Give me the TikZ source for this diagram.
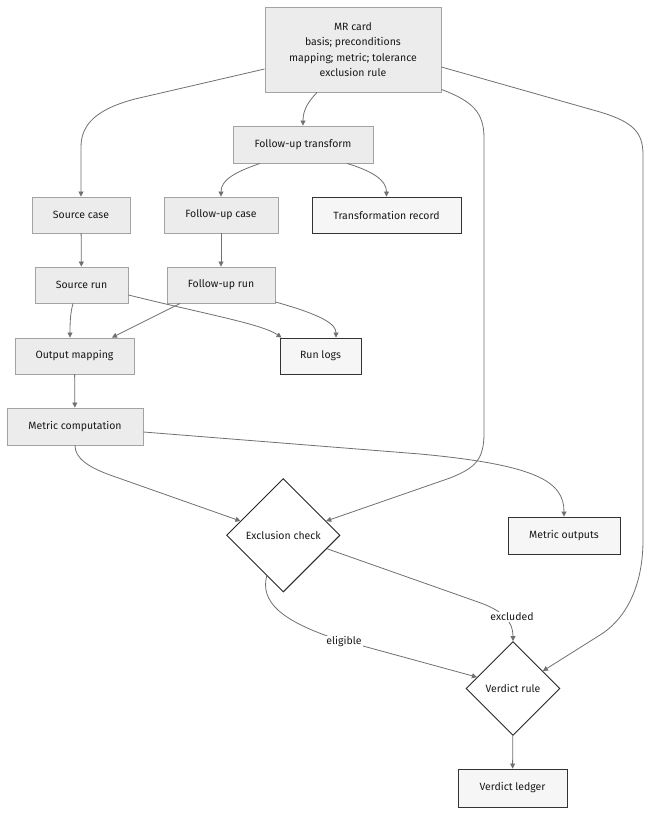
\documentclass[tikz,border=0pt]{standalone}
\usepackage{fontspec}
\setmainfont{Fira Sans}
\usetikzlibrary{shapes.geometric,arrows.meta,calc}
\definecolor{boxfill}{HTML}{ECECEC}
\definecolor{boxline}{HTML}{A3A3A3}
\definecolor{outfill}{HTML}{F6F6F6}
\definecolor{outline}{HTML}{333333}
\definecolor{edgecol}{HTML}{707070}
\begin{document}
\begin{tikzpicture}[x=1pt,y=-1pt,
  every node/.style={font=\fontsize{10.5}{15.5}\selectfont, text=black!90},
  procbox/.style={draw=boxline, fill=boxfill, line width=0.9pt, rectangle, inner sep=0pt, align=center},
  outbox/.style={draw=outline, fill=outfill, line width=0.9pt, rectangle, inner sep=0pt, align=center},
  decide/.style={draw=black!85, fill=white, line width=0.9pt, diamond, aspect=1, inner sep=0pt},
  flow/.style={draw=edgecol, line width=0.8pt, -{Triangle[length=5pt,width=5pt]}},
  elabel/.style={fill=white, inner sep=1pt}
]
\useasboundingbox (0,0) rectangle (651,813);
\fill[white] (0,0) rectangle (651,813);

% nodes
\node[procbox, minimum width=176pt, minimum height=85pt] (mr) at (353,49.5) {MR card\\basis; preconditions\\mapping; metric; tolerance\\exclusion rule};
\node[procbox, minimum width=140pt, minimum height=37pt] (fut) at (303,144.5) {Follow-up transform};
\node[procbox, minimum width=98pt, minimum height=36pt] (sc) at (81,215) {Source case};
\node[procbox, minimum width=114pt, minimum height=36pt] (fuc) at (221,215) {Follow-up case};
\node[outbox, minimum width=149pt, minimum height=36pt] (tr) at (386.5,215) {Transformation record};
\node[procbox, minimum width=93pt, minimum height=36pt] (sr) at (81.5,285) {Source run};
\node[procbox, minimum width=108pt, minimum height=36pt] (fur) at (221,285) {Follow-up run};
\node[procbox, minimum width=119pt, minimum height=36pt] (om) at (74.5,356) {Output mapping};
\node[outbox, minimum width=81pt, minimum height=36pt] (rl) at (320.5,356) {Run logs};
\node[procbox, minimum width=136pt, minimum height=37pt] (mc) at (75,426.5) {Metric computation};
\node[decide, minimum width=113.4pt, minimum height=113.4pt] (ex) at (283.3,535.3) {Exclusion check};
\node[outbox, minimum width=112pt, minimum height=37pt] (mo) at (564,535.5) {Metric outputs};
\node[decide, minimum width=94pt, minimum height=94pt] (vr) at (513,688.5) {Verdict rule};
\node[outbox, minimum width=109pt, minimum height=38pt] (vl) at (512.5,788) {Verdict ledger};

% edges
\draw[flow] ($(mr.west)+(0,19.5)$) -- (135,99) .. controls (97,109) and (81,124) .. (81,147) -- (sc.north);
\draw[flow] ($(mr.south)+(-36,0)$) .. controls (308,102) and (303,110) .. (fut.north);
\draw[flow] ($(mr.south east)+(0,-3)$) .. controls (472,101) and (484,112) .. (484,138) -- (484,433) .. controls (484,460) and (475,468) .. (450,478) -- ($(ex.east)!0.25!(ex.north)$);
\draw[flow] ($(mr.east)+(0,17.5)$) -- (600,112) .. controls (633,122) and (643,132) .. (643,155) -- (643,540) .. controls (643,590) and (623,621) .. (600,635) -- ($(vr.east)!0.37!(vr.north)$);
\draw[flow] ($(fut.south)+(-43,0)$) .. controls (235,172) and (221,180) .. (fuc.north);
\draw[flow] ($(fut.south)+(44,0)$) .. controls (372,171) and (386.5,180) .. (tr.north);
\draw[flow] (sc) -- (sr);
\draw[flow] (fuc) -- (fur);
\draw[flow] ($(sr.south)+(-8.5,0)$) .. controls (70,314) and (70,326) .. ($(om.north)+(-4.5,0)$);
\draw[flow] ($(fur.south)+(-41,0)$) -- ($(om.north)+(37.5,0)$);
\draw[flow] ($(sr.east)+(0,10)$) .. controls (205,314) and (262,324) .. ($(rl.north west)+(2,0)$);
\draw[flow] ($(fur.east)+(0,17)$) .. controls (322,315) and (336,324) .. ($(rl.north)+(15.5,0)$);
\draw[flow] (om) -- (mc);
\draw[flow] (mc.south) .. controls (75,458) and (88,467) .. (110,475) -- ($(ex.west)!0.25!(ex.north)$);
\draw[flow] ($(mc.east)+(0,5.5)$) -- (420,454) .. controls (538,465) and (564,482) .. (mo.north);
\draw[flow] ($(ex.east)!0.235!(ex.south)$) -- (478,602) .. controls (504,611) and (513,622) .. (vr.north);
\draw[flow] ($(ex.south)!0.29!(ex.west)$) .. controls (260,602) and (282,620) .. (330,637) -- ($(vr.west)!0.24!(vr.north)$);
\draw[flow] (vr) -- (vl);

% edge labels
\node[elabel] (lexc) at (512,617) {excluded};
\node[elabel] (lelig) at (344,642) {eligible};
\end{tikzpicture}
\end{document}
